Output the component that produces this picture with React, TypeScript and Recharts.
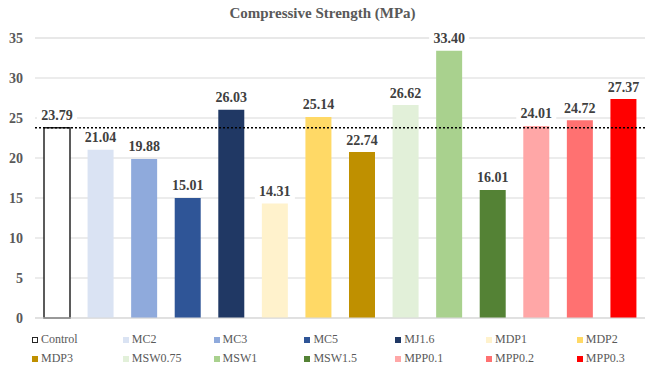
import { BarChart, Bar, XAxis, YAxis, CartesianGrid, Cell, LabelList, ReferenceLine } from "recharts"

const mixes = ["Control", "MC2", "MC3", "MC5", "MJ1.6", "MDP1", "MDP2", "MDP3", "MSW0.75", "MSW1", "MSW1.5", "MPP0.1", "MPP0.2", "MPP0.3"]
// bar heights as drawn (MDP3 bar sits lower than its printed label)
const strength = [23.79, 21.04, 19.88, 15.01, 26.03, 14.31, 25.14, 20.74, 26.62, 33.4, 16.01, 24.01, 24.72, 27.37]
const printedLabels = ["23.79", "21.04", "19.88", "15.01", "26.03", "14.31", "25.14", "22.74", "26.62", "33.40", "16.01", "24.01", "24.72", "27.37"]
const fills = ["#ffffff", "#dae3f3", "#8faadc", "#2f5597", "#203864", "#fff2cc", "#ffd966", "#bf9000", "#e2f0d9", "#a9d18e", "#548235", "#ffa7a7", "#ff7171", "#ff0000"]
const majorTicks = [0, 5, 10, 15, 20, 25, 30, 35]
const minorTicks = Array.from({ length: 36 }, (_, i) => i)
const controlLevel = 23.79

const serif = "'Liberation Serif', serif"

const data = mixes.map((name, i) => ({ name, value: strength[i], label: printedLabels[i] }))

function ValueLabel(props: any) {
  const { x, y, width, index } = props
  const text = printedLabels[index]
  const cx = x + width / 2
  const ty = y - 12
  return (
    <g>
      <rect x={cx - 20} y={ty - 8} width={40} height={16} fill="#ffffff" />
      <text x={cx} y={ty} textAnchor="middle" dominantBaseline="central" fill="#404040" fontFamily={serif} fontWeight="bold" fontSize={14}>
        {text}
      </text>
    </g>
  )
}

function LegendBlock() {
  return (
    <div style={{ position: "absolute", left: 0, top: 332, width: 645, display: "grid", gridTemplateColumns: "repeat(7, 90.8px)", rowGap: 4, paddingLeft: 32, fontFamily: serif, fontSize: 12, color: "#595959" }}>
      {mixes.map((name, i) => (
        <div key={name} style={{ display: "flex", alignItems: "center", height: 15, whiteSpace: "nowrap" }}>
          <span
            style={{
              display: "inline-block",
              width: 6,
              height: 6,
              marginRight: 3,
              background: fills[i],
              border: i === 0 ? "1.5px solid #262626" : "none",
              boxSizing: "border-box",
            }}
          />
          {name}
        </div>
      ))}
    </div>
  )
}

export default function App() {
  return (
    <div style={{ position: "absolute", left: 0, top: 0, width: 645, height: 369, background: "#ffffff" }}>
      <div style={{ position: "absolute", left: 0, top: 5, width: 645, textAlign: "center", fontFamily: serif, fontWeight: "bold", fontSize: 15, color: "#595959" }}>
        Compressive Strength (MPa)
      </div>
      <BarChart width={645} height={369} data={data} margin={{ top: 38, right: 0, bottom: 50, left: 0 }} barSize={26}>
        <YAxis yAxisId="minor" domain={[0, 35]} ticks={minorTicks} hide />
        <CartesianGrid yAxisId="minor" vertical={false} stroke="#f0f0f0" />
        <CartesianGrid vertical={false} stroke="#d9d9d9" />
        <XAxis dataKey="name" tick={false} tickLine={false} height={1} axisLine={{ stroke: "#d9d9d9" }} />
        <YAxis
          domain={[0, 35]}
          ticks={majorTicks}
          width={35}
          axisLine={false}
          tickLine={false}
          tickSize={0}
          tickMargin={12}
          tick={{ fontFamily: serif, fontWeight: "bold", fontSize: 14, fill: "#595959" }}
        />
        <Bar dataKey="value" isAnimationActive={false}>
          {data.map((d, i) => (
            <Cell key={d.name} fill={fills[i]} stroke={i === 0 ? "#262626" : "none"} strokeWidth={i === 0 ? 1.5 : 0} />
          ))}
          <LabelList dataKey="label" content={<ValueLabel />} />
        </Bar>
        <ReferenceLine y={controlLevel} stroke="#000000" strokeWidth={1.5} strokeDasharray="2 2" />
      </BarChart>
      <LegendBlock />
    </div>
  )
}
